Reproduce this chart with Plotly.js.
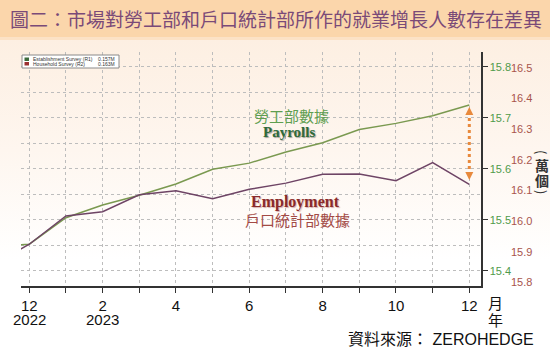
<!DOCTYPE html>
<html><head><meta charset="utf-8">
<script src="https://cdn.plot.ly/plotly-3.0.1.min.js"></script>
<style>
html,body{margin:0;padding:0;background:#fff;}
#chart{width:550px;height:352px;background:linear-gradient(to bottom,#fbe0c4 0px,#fdefe2 40px,#fef6ef 150px,#ffffff 260px);}
</style></head><body><div id="chart"></div>
<script>
// Data (month index: 0 = Dec 2022 ... 12 = Dec 2023)
const monthIndex = [-1,0,1,2,3,4,5,6,7,8,9,10,11,12];
const establishment = [15.447,15.452,15.504,15.529,15.548,15.570,15.599,15.611,15.633,15.651,15.677,15.689,15.704,15.725];
const household = [15.858,15.925,16.017,16.031,16.086,16.099,16.073,16.104,16.124,16.153,16.154,16.132,16.191,16.120];
const tickMonths = [0,1,2,3,4,5,6,7,8,9,10,11,12];
const tickLabels = ["12","","2","","4","","6","","8","","10","","12"];
const yearMonths = [0,2];
const yearLabels = ["2022","2023"];
const leftTicks = [15.4,15.5,15.6,15.7,15.8];
const rightTicks = [15.8,15.9,16.0,16.1,16.2,16.3,16.4,16.5];
const seriesNames = ["Establishment Survey (R1)","Household Survey (R2)"];
const seriesLast = ["0.157M","0.163M"];

const W=550,H=352,L=21,R=69,T=52,B=66;
const pw=W-L-R, ph=H-T-B;
const px=x=>(x-L)/pw, py=y=>(H-B-y)/ph;

const green='#7a9950', plum='#6e4465';

const traces=[
 {x:monthIndex,y:establishment,type:'scatter',mode:'lines',line:{color:green,width:1.5},yaxis:'y',hoverinfo:'skip',showlegend:false},
 {x:monthIndex,y:household,type:'scatter',mode:'lines',line:{color:plum,width:1.5},yaxis:'y2',hoverinfo:'skip',showlegend:false}
];

const shapes=[
 {type:'rect',xref:'paper',yref:'paper',x0:px(0),x1:px(W),y0:py(37),y1:py(0),fillcolor:'#fbd6ab',line:{width:0},layer:'below'},
 {type:'rect',xref:'paper',yref:'paper',x0:px(0),x1:px(W),y0:py(40),y1:py(37),fillcolor:'#fce2c6',line:{width:0},layer:'below'},
 // legend box
 {type:'rect',xref:'paper',yref:'paper',x0:px(22),x1:px(119),y0:py(68),y1:py(55),fillcolor:'#ffffff',line:{color:'#8a8a8a',width:1}},
 {type:'rect',xref:'paper',yref:'paper',x0:px(24.5),x1:px(29),y0:py(61),y1:py(57.5),fillcolor:'#3d6b3d',line:{width:0}},
 {type:'rect',xref:'paper',yref:'paper',x0:px(24.5),x1:px(29),y0:py(65.5),y1:py(62),fillcolor:'#9b3030',line:{width:0}},
 // dotted double arrow
 {type:'line',xref:'x',yref:'paper',x0:12,x1:12,y0:py(112),y1:py(175),line:{color:'#e8893c',width:3,dash:'dot'}},
 {type:'path',xref:'x',yref:'paper',xsizemode:'pixel',ysizemode:'pixel',xanchor:12,yanchor:py(107),path:'M 0 0 L -4 -8 L 4 -8 Z',fillcolor:'#e8893c',line:{width:0}},
 {type:'path',xref:'x',yref:'paper',xsizemode:'pixel',ysizemode:'pixel',xanchor:12,yanchor:py(180),path:'M 0 0 L -4 8 L 4 8 Z',fillcolor:'#e8893c',line:{width:0}}
];

const cjk='"Noto Sans CJK TC","Noto Sans CJK SC",sans-serif';
const ann=(x,y,text,font,extra)=>Object.assign({xref:'paper',yref:'paper',x:px(x),y:py(y),text:text,showarrow:false,font:font,xanchor:'center',yanchor:'middle'},extra||{});

const annotations=[
 ann(31,59.3,seriesNames[0],{size:5,color:'#333',family:'Liberation Sans, Arial'},{xanchor:'left'}),
 ann(31,63.8,seriesNames[1],{size:5,color:'#333',family:'Liberation Sans, Arial'},{xanchor:'left'}),
 ann(117,59.3,seriesLast[0],{size:5,color:'#333',family:'Liberation Sans, Arial'},{xanchor:'right'}),
 ann(117,63.8,seriesLast[1],{size:5,color:'#333',family:'Liberation Sans, Arial'},{xanchor:'right'}),
 ann(291,115,'勞工部數據',{size:15,color:'#5e9e50',family:cjk}),
 ann(289,132,'<b>Payrolls</b>',{size:15,color:'#2f6a3a',family:'Liberation Serif, Times New Roman, serif',shadow:'1px 1px 1px rgba(0,0,0,0.35)'}),
 ann(295,201.5,'<b>Employment</b>',{size:16,color:'#8a2a2a',family:'Liberation Serif, Times New Roman, serif',shadow:'1px 1px 1px rgba(120,0,0,0.3)'}),
 ann(297,219,'戶口統計部數據',{size:15,color:'#a34a45',family:cjk}),
 ann(496,302,'月',{size:15,color:'#111',family:cjk}),
 ann(496,319,'年',{size:15,color:'#111',family:cjk}),
 ann(542,152,'(',{size:13,color:'#333',family:cjk},{textangle:90}),
 ann(542,165,'<b>萬</b>',{size:14,color:'#333',family:cjk}),
 ann(542,180,'<b>個</b>',{size:14,color:'#333',family:cjk}),
 ann(542,192,')',{size:13,color:'#333',family:cjk},{textangle:90}),
 ann(536,339.5,'資料來源： ZEROHEDGE',{size:16,color:'#111',family:'Liberation Sans, Arial, '+cjk},{xanchor:'right'})
];
yearMonths.forEach((m,i)=>annotations.push({xref:'x',yref:'paper',x:m,y:py(319.5),text:yearLabels[i],showarrow:false,
  font:{size:15,color:'#111',family:'Liberation Sans, Arial'},xanchor:'center',yanchor:'middle'}));

const layout={
 width:W,height:H,margin:{l:L,r:R,t:T,b:B,pad:0,autoexpand:false},
 paper_bgcolor:'rgba(0,0,0,0)',plot_bgcolor:'rgba(0,0,0,0)',
 showlegend:false,
 title:{text:'圖二：市場對勞工部和戶口統計部所作的就業增長人數存在差異',font:{size:19,color:'#7a4a78',family:cjk},xref:'container',yref:'container',x:10/W,xanchor:'left',y:1-20/H,yanchor:'middle'},
 xaxis:{range:[-0.226,12.319],tickmode:'array',tickvals:tickMonths,ticktext:tickLabels,ticks:'outside',ticklen:5,tickcolor:'#333',tickwidth:1,
   showline:true,linecolor:'#333',linewidth:1.5,showgrid:true,gridcolor:'#bdbdbd',griddash:'dot',gridwidth:1,zeroline:false,
   tickfont:{size:15,color:'#111',family:'Liberation Sans, Arial'},fixedrange:true},
 yaxis:{range:[15.370,15.829],side:'right',tickmode:'array',tickvals:leftTicks,ticktext:leftTicks.map(v=>v.toFixed(1)),ticks:'outside',ticklen:5,tickcolor:'#333',
   showline:true,linecolor:'#333',linewidth:1.5,showgrid:true,gridcolor:'#bdbdbd',griddash:'dot',zeroline:false,
   minor:{dtick:0.05,tick0:15.4,showgrid:true,gridcolor:'#bdbdbd',griddash:'dot',ticks:''},
   tickfont:{size:11,color:'#4f9a4a',family:'Liberation Sans, Arial'},fixedrange:true},
 yaxis2:{range:[15.789,16.551],overlaying:'y',side:'right',anchor:'x',tickmode:'array',tickvals:rightTicks,ticktext:rightTicks.map(v=>v.toFixed(1)),ticks:'',
   showline:false,showgrid:false,zeroline:false,ticklabelstandoff:29,
   tickfont:{size:11,color:'#a8544c',family:'Liberation Sans, Arial'},fixedrange:true},
 shapes:shapes,annotations:annotations
};
Plotly.newPlot('chart',traces,layout,{staticPlot:true,displayModeBar:false});
</script></body></html>
